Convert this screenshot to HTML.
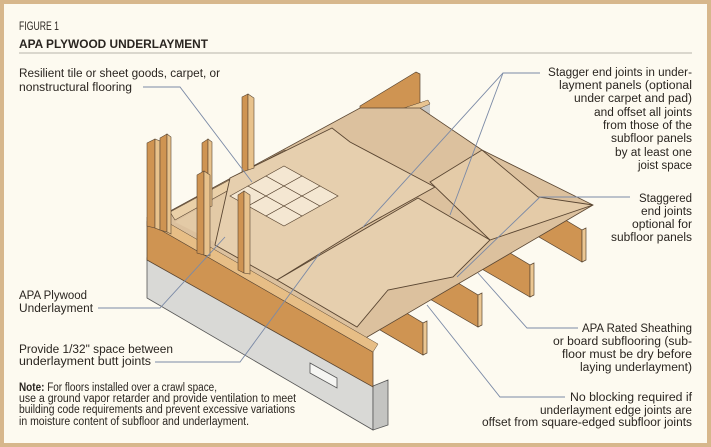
<!DOCTYPE html>
<html><head><meta charset="utf-8"><style>
html,body{margin:0;padding:0;background:#fdfaf0}
svg{display:block}
text{font-family:"Liberation Sans",sans-serif;fill:#2a2520;font-size:11.5px}
</style></head><body>
<svg width="711" height="447" viewBox="0 0 711 447" xmlns="http://www.w3.org/2000/svg">
<rect x="2" y="2" width="707" height="443" fill="#fdfaf0" stroke="#d7b78c" stroke-width="4"/>
<text x="19" y="30" font-size="13" textLength="40" lengthAdjust="spacingAndGlyphs">FIGURE 1</text>
<text x="19" y="48" font-size="12.5" font-weight="bold" textLength="189" lengthAdjust="spacingAndGlyphs">APA PLYWOOD UNDERLAYMENT</text>
<line x1="19" y1="53" x2="692" y2="53" stroke="#b8b4aa" stroke-width="1"/>

<!-- foundation -->
<polygon points="147,258 373,386 373,430 147,298" fill="#d9d9d6" stroke="#555" stroke-width="0.8"/>
<polygon points="373,386 388,380 388,425 373,430" fill="#c4c4c1" stroke="#555" stroke-width="0.8"/>
<polygon points="310,363 337,378 337,388 310,373" fill="#f5f5f2" stroke="#555" stroke-width="0.8"/>
<polygon points="418,106 430,102 430,138 418,140" fill="#c9c9c6"/>

<!-- joists -->
<g stroke="#5a4632" stroke-width="0.7">
<polygon points="368,290 423,323 423,355 368,323" fill="#cf9452"/>
<polygon points="423,323 427,321 427,353 423,355" fill="#ecc793"/>
<polygon points="423,262 478,295 478,327 423,295" fill="#cf9452"/>
<polygon points="478,295 482,293 482,325 478,327" fill="#ecc793"/>
<polygon points="475,232 530,265 530,297 475,265" fill="#cf9452"/>
<polygon points="530,265 534,263 534,295 530,297" fill="#ecc793"/>
<polygon points="527,197 582,230 582,262 527,230" fill="#cf9452"/>
<polygon points="582,230 586,228 586,260 582,262" fill="#ecc793"/>
</g>

<!-- back rim -->
<polygon points="360,106 416,72 420,74 420,110 360,135" fill="#cf9452" stroke="#5a4632" stroke-width="0.7"/>
<polygon points="392,112 428,100 430,104 396,118" fill="#e8c491" stroke="#5a4632" stroke-width="0.5"/>

<!-- subfloor -->
<polygon points="150,222 360,108 420,108 482,150 593,205 357,343 150,226" fill="#dcc19e" stroke="#5a4632" stroke-width="0.8"/>
<polygon points="170,212 285,150 290,156 175,220" fill="#ead0a8" stroke="#5a4632" stroke-width="0.6"/>
<polygon points="155,232 280,300 280,306 155,238" fill="#ead0a8" stroke="#5a4632" stroke-width="0.6"/>
<polygon points="175,222 280,162 330,190 230,250" fill="#e3caa6"/>

<!-- underlayment panel 1 -->
<polygon points="230,178 332,128 350,142 435,187 363,227 277,280 215,245" fill="#e6cfae" stroke="#5a4632" stroke-width="0.9"/>
<!-- tiles 3x3 -->
<g fill="#f4e7d2" stroke="#5a4632" stroke-width="0.7">
<polygon points="230,196 248,186 266,196 248,206"/>
<polygon points="248,186 266,176 284,186 266,196"/>
<polygon points="266,176 284,166 302,176 284,186"/>
<polygon points="248,206 266,196 284,206 266,216"/>
<polygon points="266,196 284,186 302,196 284,206"/>
<polygon points="284,186 302,176 320,186 302,196"/>
<polygon points="266,216 284,206 302,216 284,226"/>
<polygon points="284,206 302,196 320,206 302,216"/>
<polygon points="302,196 320,186 338,196 320,206"/>
</g>

<!-- rim board -->
<polygon points="147,222 373,352 373,387 147,260" fill="#cf9452" stroke="#5a4632" stroke-width="0.8"/>
<polygon points="147,217 153,214 378,344 373,352 147,222" fill="#e7be86" stroke="#5a4632" stroke-width="0.5"/>

<!-- panel 3 -->
<polygon points="430,182 482,150 538,197 593,205 490,240" fill="#e4cba8" stroke="#5a4632" stroke-width="0.9"/>
<!-- panel 2 -->
<polygon points="277,280 418,198 490,240 453,277 388,290 357,327" fill="#e6cfae" stroke="#5a4632" stroke-width="0.9"/>

<!-- studs -->
<g stroke="#5a4632" stroke-width="0.6">
<polygon points="147,143 155,139 155,228 147,226" fill="#cf9452"/>
<polygon points="155,139 160,141 160,230 155,228" fill="#e8c28c"/>
<polygon points="160,138 167,134 167,232 160,230" fill="#cf9452"/>
<polygon points="167,134 171,137 171,234 167,232" fill="#e8c28c"/>
<polygon points="202,143 208,139 208,208 202,211" fill="#cf9452"/>
<polygon points="208,139 212,142 212,206 208,208" fill="#e8c28c"/>
<polygon points="242,97 248,94 248,170 242,172" fill="#cf9452"/>
<polygon points="248,94 254,98 254,168 248,170" fill="#e8c28c"/>
<polygon points="197,175 204,171 204,255 197,253" fill="#cf9452"/>
<polygon points="204,171 210,175 210,256 204,255" fill="#e8c28c"/>
<polygon points="238,195 244,191 244,273 238,270" fill="#cf9452"/>
<polygon points="244,191 250,195 250,274 244,273" fill="#e8c28c"/>
</g>

<!-- leaders -->
<g fill="none" stroke="#7b8aa6" stroke-width="0.9">
<polyline points="143,87 180,87 252,182"/>
<polyline points="540,73 503,73 363,227"/>
<line x1="503" y1="73" x2="450" y2="215"/>
<polyline points="630,197 540,197 457,277"/>
<polyline points="578,328 527,328 478,273"/>
<polyline points="565,397 500,397 427,305"/>
<polyline points="98,308 160,308 225,237"/>
<polyline points="155,362 240,362 320,253"/>
</g>

<text x="19" y="77" textLength="201" lengthAdjust="spacingAndGlyphs">Resilient tile or sheet goods, carpet, or</text>
<text x="19" y="91" textLength="113" lengthAdjust="spacingAndGlyphs">nonstructural flooring</text>
<text x="19" y="299" textLength="68" lengthAdjust="spacingAndGlyphs">APA Plywood</text>
<text x="19" y="312" textLength="74" lengthAdjust="spacingAndGlyphs">Underlayment</text>
<text x="19" y="353" textLength="154" lengthAdjust="spacingAndGlyphs">Provide 1/32" space between</text>
<text x="19" y="365" textLength="132" lengthAdjust="spacingAndGlyphs">underlayment butt joints</text>
<text x="19" y="391" font-size="10" textLength="198" lengthAdjust="spacingAndGlyphs"><tspan font-weight="bold">Note:</tspan> For floors installed over a crawl space,</text>
<text x="19" y="402" font-size="10" textLength="277" lengthAdjust="spacingAndGlyphs">use a ground vapor retarder and provide ventilation to meet</text>
<text x="19" y="413" font-size="10" textLength="276" lengthAdjust="spacingAndGlyphs">building code requirements and prevent excessive variations</text>
<text x="19" y="425" font-size="10" textLength="230" lengthAdjust="spacingAndGlyphs">in moisture content of subfloor and underlayment.</text>

<g text-anchor="end">
<text x="692" y="76" textLength="144" lengthAdjust="spacingAndGlyphs">Stagger end joints in under-</text>
<text x="692" y="89" textLength="133" lengthAdjust="spacingAndGlyphs">layment panels (optional</text>
<text x="692" y="102" textLength="118" lengthAdjust="spacingAndGlyphs">under carpet and pad)</text>
<text x="692" y="116" textLength="98" lengthAdjust="spacingAndGlyphs">and offset all joints</text>
<text x="692" y="129" textLength="89" lengthAdjust="spacingAndGlyphs">from those of the</text>
<text x="692" y="142" textLength="81" lengthAdjust="spacingAndGlyphs">subfloor panels</text>
<text x="692" y="156" textLength="77" lengthAdjust="spacingAndGlyphs">by at least one</text>
<text x="692" y="169" textLength="54" lengthAdjust="spacingAndGlyphs">joist space</text>
<text x="692" y="202" textLength="53" lengthAdjust="spacingAndGlyphs">Staggered</text>
<text x="692" y="215" textLength="51" lengthAdjust="spacingAndGlyphs">end joints</text>
<text x="692" y="228" textLength="60" lengthAdjust="spacingAndGlyphs">optional for</text>
<text x="692" y="241" textLength="81" lengthAdjust="spacingAndGlyphs">subfloor panels</text>
<text x="692" y="332" textLength="110" lengthAdjust="spacingAndGlyphs">APA Rated Sheathing</text>
<text x="692" y="345" textLength="139" lengthAdjust="spacingAndGlyphs">or board subflooring (sub-</text>
<text x="692" y="358" textLength="130" lengthAdjust="spacingAndGlyphs">floor must be dry before</text>
<text x="692" y="371" textLength="112" lengthAdjust="spacingAndGlyphs">laying underlayment)</text>
<text x="692" y="401" textLength="122" lengthAdjust="spacingAndGlyphs">No blocking required if</text>
<text x="692" y="414" textLength="152" lengthAdjust="spacingAndGlyphs">underlayment edge joints are</text>
<text x="692" y="426" textLength="210" lengthAdjust="spacingAndGlyphs">offset from square-edged subfloor joints</text>
</g>
</svg>
</body></html>
